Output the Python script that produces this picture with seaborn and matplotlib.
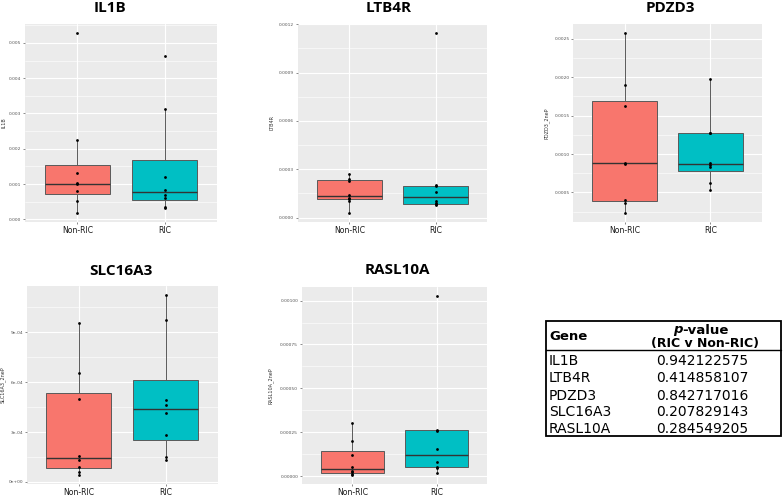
import numpy as np
import pandas as pd
import matplotlib
matplotlib.use("Agg")
import matplotlib.pyplot as plt
import seaborn as sns
from matplotlib.ticker import FixedLocator, AutoMinorLocator, NullLocator
from matplotlib.patches import Rectangle

# ---------------- data ----------------
groups = ["Non-RIC", "RIC"]
group_colors = ["#F8766D", "#00BFC4"]

genes = ["IL1B", "LTB4R", "PDZD3", "SLC16A3", "RASL10A"]
ylabels = ["IL1B", "LTB4R", "PDZD3_2neP", "SLC16A3_2neP", "RASL10A_2neP"]
p_values = ["0.942122575", "0.414858107", "0.842717016", "0.207829143", "0.284549205"]

il1b_nonric = [0.00018, 0.00051, 0.00079, 0.00099, 0.00104, 0.00131, 0.002245, 0.00528]
il1b_ric = [0.00033, 0.00035, 0.00061, 0.00069, 0.00084, 0.00120, 0.00312, 0.00463]
ltb4r_nonric = [0.000029, 0.000103, 0.000116, 0.000123, 0.000140, 0.000230, 0.000238, 0.000271]
ltb4r_ric = [0.000080, 0.000085, 0.000088, 0.000102, 0.000160, 0.000195, 0.000201, 0.001145]
pdzd3_nonric = [0.000233, 0.000358, 0.000401, 0.000875, 0.000888, 0.001625, 0.001897, 0.002573]
pdzd3_ric = [0.000534, 0.000629, 0.000836, 0.000853, 0.000879, 0.001267, 0.001276, 0.001978]
slc16a3_nonric = [0.000042, 0.000058, 0.000093, 0.000135, 0.000159, 0.000498, 0.000653, 0.000956]
slc16a3_ric = [0.000133, 0.000151, 0.000284, 0.000417, 0.000466, 0.000492, 0.000974, 0.001125]
rasl10a_nonric = [0.0000075, 0.000015, 0.000022, 0.000030, 0.000051, 0.000122, 0.000202, 0.000303]
rasl10a_ric = [0.000021, 0.000047, 0.000052, 0.000082, 0.000157, 0.000260, 0.000266, 0.001026]

il1b_ticks = [0.0, 0.001, 0.002, 0.003, 0.004, 0.005]
il1b_ticklabels = ["0.000", "0.001", "0.002", "0.003", "0.004", "0.005"]
ltb4r_ticks = [0.0, 0.0003, 0.0006, 0.0009, 0.0012]
ltb4r_ticklabels = ["0.0000", "0.0003", "0.0006", "0.0009", "0.0012"]
pdzd3_ticks = [0.0005, 0.0010, 0.0015, 0.0020, 0.0025]
pdzd3_ticklabels = ["0.0005", "0.0010", "0.0015", "0.0020", "0.0025"]
slc16a3_ticks = [0.0, 0.0003, 0.0006, 0.0009]
slc16a3_ticklabels = ["0e+00", "3e-04", "6e-04", "9e-04"]
rasl10a_ticks = [0.0, 0.00025, 0.0005, 0.00075, 0.001]
rasl10a_ticklabels = ["0.00000", "0.00025", "0.00050", "0.00075", "0.00100"]

# ---------------- style ----------------
sns.set_theme(style="darkgrid")
plt.rcParams['font.family'] = ['DejaVu Sans']

W, H = 784, 497
fig = plt.figure(figsize=(W / 100, H / 100), dpi=100)
fig.patch.set_facecolor("white")


def frac(x0, y0, x1, y1):
    return [x0 / W, 1 - y1 / H, (x1 - x0) / W, (y1 - y0) / H]


def panel(rect, nonric, ric, ticks, ticklabels, ylabel, title, title_xy, ylabel_x):
    ax = fig.add_axes(frac(*rect))
    df = pd.DataFrame({
        "group": [groups[0]] * len(nonric) + [groups[1]] * len(ric),
        "value": list(nonric) + list(ric),
    })
    sns.boxplot(data=df, x="group", y="value", hue="group", order=groups,
                hue_order=groups, palette=group_colors, width=0.75,
                showfliers=False, showcaps=False, saturation=1,
                linecolor="#5a5a5a", linewidth=0.7,
                medianprops=dict(color="#333333", linewidth=1.0),
                legend=False, ax=ax)
    sns.stripplot(data=df, x="group", y="value", order=groups, jitter=False,
                  color="black", size=2.0, zorder=4, ax=ax)
    vals = df["value"].to_numpy()
    lo, hi = vals.min(), vals.max()
    pad = 0.05 * (hi - lo)
    ax.set_ylim(lo - pad, hi + pad)
    ax.set_xlim(-0.6, 1.6)
    ax.set_facecolor("#EBEBEB")
    ax.yaxis.set_major_locator(FixedLocator(ticks))
    ax.set_yticklabels(ticklabels)
    ax.yaxis.set_minor_locator(AutoMinorLocator(2))
    ax.xaxis.set_minor_locator(NullLocator())
    ax.set_axisbelow(True)
    ax.grid(which="major", color="white", linewidth=0.8)
    ax.grid(which="minor", axis="y", color="white", linewidth=0.4)
    for s in ax.spines.values():
        s.set_visible(False)
    ax.tick_params(axis="y", which="major", labelsize=3.2, labelcolor="#555555",
                   length=1.5, width=0.4, color="#333333", pad=1, left=True)
    ax.tick_params(axis="y", which="minor", length=0)
    ax.tick_params(axis="x", which="major", labelsize=5.6, labelcolor="#1a1a1a",
                   length=1.5, width=0.4, color="#333333", pad=1.2, bottom=True)
    ax.set_xlabel("")
    ax.set_ylabel(ylabel, fontsize=3.5, color="#333333")
    ax.yaxis.set_label_coords(ylabel_x / W, 1 - ((rect[1] + rect[3]) / 2) / H,
                              transform=fig.transFigure)
    fig.text(title_xy[0] / W, 1 - title_xy[1] / H, title, ha="center", va="center",
             fontsize=11, fontweight="bold", family=["Open Sans", "DejaVu Sans"],
             color="black")
    return ax


panel((25, 24, 217, 222), il1b_nonric, il1b_ric, il1b_ticks, il1b_ticklabels,
      ylabels[0], genes[0], (110, 8), 6)
panel((297.5, 24, 487.5, 222), ltb4r_nonric, ltb4r_ric, ltb4r_ticks, ltb4r_ticklabels,
      ylabels[1], genes[1], (389, 8.5), 274)
panel((573, 24, 762, 222), pdzd3_nonric, pdzd3_ric, pdzd3_ticks, pdzd3_ticklabels,
      ylabels[2], genes[2], (670, 8.5), 549)
panel((26.5, 286, 218, 484), slc16a3_nonric, slc16a3_ric, slc16a3_ticks,
      slc16a3_ticklabels, ylabels[3], genes[3], (120.5, 271), 6)
panel((301.7, 287, 487.3, 484), rasl10a_nonric, rasl10a_ric, rasl10a_ticks,
      rasl10a_ticklabels, ylabels[4], genes[4], (397, 270), 274)

# ---------------- table ----------------
tax = fig.add_axes([0, 0, 1, 1], zorder=10)
tax.set_xlim(0, W)
tax.set_ylim(H, 0)
tax.axis("off")
tax.patch.set_alpha(0)

tax.add_patch(Rectangle((546, 321), 235, 115, fill=False, edgecolor="black",
                        linewidth=1.3))
tax.plot([546, 781], [350, 350], color="black", linewidth=1.0)

tax.text(549, 337, "Gene", ha="left", va="center", fontsize=9.5,
         fontweight="bold", color="black")
ptxt = tax.text(673, 330, "p", ha="left", va="center", fontsize=9.5,
                fontweight="bold", style="italic", color="black")
tax.annotate("-value", xy=(1, 0), xycoords=ptxt, ha="left", va="bottom",
             fontsize=9.5, fontweight="bold", color="black")
tax.text(705, 343.5, "(RIC v Non-RIC)", ha="center", va="center", fontsize=9,
         fontweight="bold", color="black")

row_y = [361, 378.5, 395.5, 412.5, 429]
for g, p, y in zip(genes, p_values, row_y):
    tax.text(549, y, g, ha="left", va="center", fontsize=10, color="black")
    tax.text(702, y, p, ha="center", va="center", fontsize=10, color="black")

fig.savefig("out.png", dpi=100)
